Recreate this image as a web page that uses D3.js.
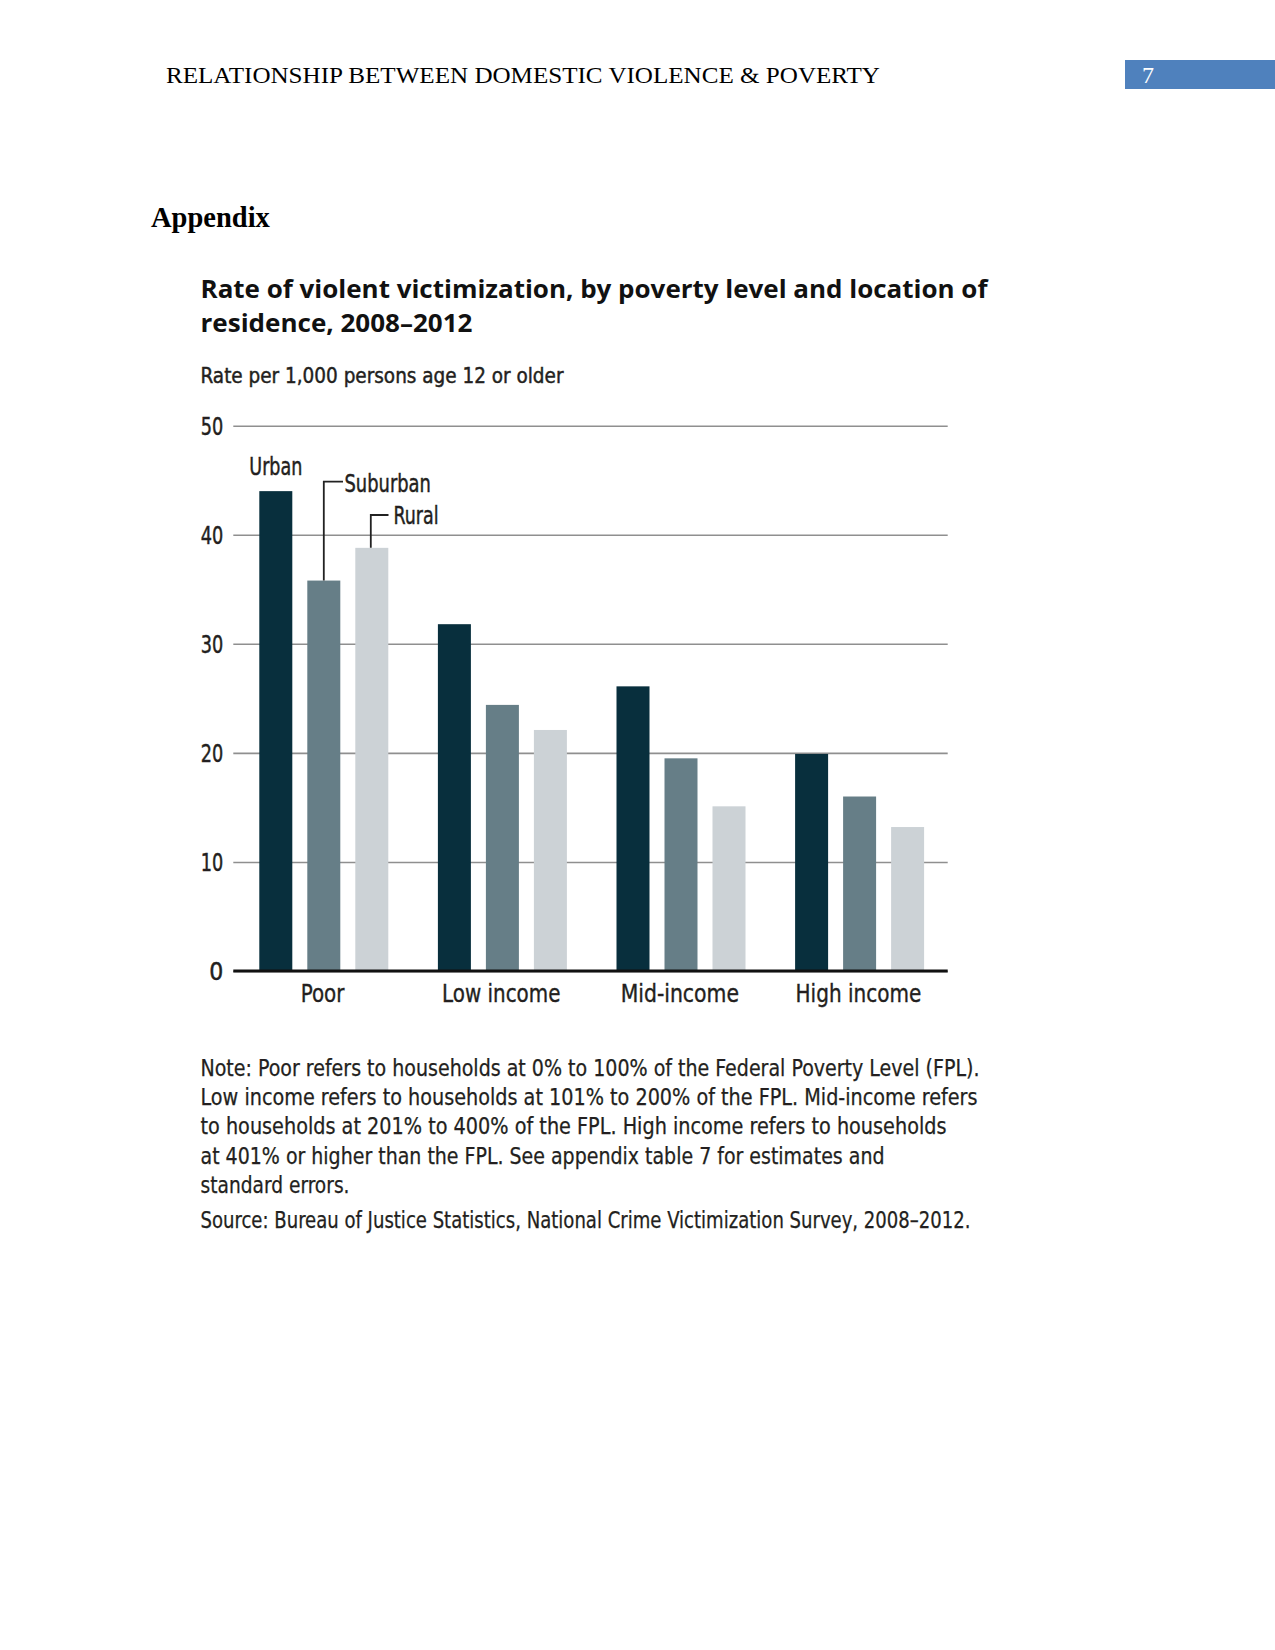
<!DOCTYPE html>
<html>
<head>
<meta charset="utf-8">
<script src="https://cdn.jsdelivr.net/npm/d3@7"></script>
<style>
  html, body { margin: 0; padding: 0; background: #fff; }
  svg { display: block; }
</style>
</head>
<body>
<svg id="page" width="1275" height="1650"></svg>
<script>
// ---------------- DATA ----------------
const categories = ["Poor", "Low income", "Mid-income", "High income"];
const series = ["Urban", "Suburban", "Rural"];
const urbanValues = [44.0, 31.8, 26.1, 19.9];
const suburbanValues = [35.8, 24.4, 19.5, 16.0];
const ruralValues = [38.8, 22.1, 15.1, 13.2];
const yTickValues = [0, 10, 20, 30, 40, 50];

const headerText = "RELATIONSHIP BETWEEN DOMESTIC VIOLENCE & POVERTY";
const pageNumber = "7";
const sectionTitle = "Appendix";
const titleLines = ["Rate of violent victimization, by poverty level and location of", "residence, 2008\u20132012"];
const subtitleText = "Rate per 1,000 persons age 12 or older";
const noteLines = [
  "Note: Poor refers to households at 0% to 100% of the Federal Poverty Level (FPL).",
  "Low income refers to households at 101% to 200% of the FPL. Mid-income refers",
  "to households at 201% to 400% of the FPL. High income refers to households",
  "at 401% or higher than the FPL. See appendix table 7 for estimates and",
  "standard errors."
];
const sourceText = "Source: Bureau of Justice Statistics, National Crime Victimization Survey, 2008\u20132012.";

// ---------------- STYLE / LAYOUT ----------------
const colors = { Urban: "#082f3d", Suburban: "#667e87", Rural: "#ccd2d6" };
const narrow = "'Liberation Sans Narrow', 'DejaVu Sans Condensed', 'Arial Narrow', sans-serif";
const textColor = "#231f20";
const heavy = 0.45; // slight stroke to mimic the heavier condensed face

const valuesBySeries = { Urban: urbanValues, Suburban: suburbanValues, Rural: ruralValues };
const rows = categories.map((c, i) => ({
  category: c,
  values: series.map(s => ({ key: s, value: valuesBySeries[s][i] }))
}));

const svg = d3.select("#page");

// Header
svg.append("text")
  .attr("x", 166).attr("y", 83)
  .attr("font-family", "'Liberation Serif', 'Times New Roman', serif")
  .attr("font-size", 24)
  .attr("fill", "#000")
  .attr("textLength", 714).attr("lengthAdjust", "spacingAndGlyphs")
  .text(headerText);

svg.append("rect")
  .attr("x", 1125).attr("y", 60).attr("width", 150).attr("height", 29)
  .attr("fill", "#4f81bd");
svg.append("text")
  .attr("x", 1142).attr("y", 83)
  .attr("font-family", "'Liberation Serif', 'Times New Roman', serif")
  .attr("font-size", 24)
  .attr("fill", "#fff")
  .text(pageNumber);

svg.append("text")
  .attr("x", 151).attr("y", 227)
  .attr("font-family", "'Liberation Serif', 'Times New Roman', serif")
  .attr("font-weight", "bold")
  .attr("font-size", 28.5)
  .attr("fill", "#000")
  .text(sectionTitle);

// Chart title
const titleWidths = [787, 272];
svg.append("g").selectAll("text")
  .data(titleLines)
  .join("text")
  .attr("x", 200.5)
  .attr("y", (d, i) => 297.5 + i * 34.5)
  .attr("font-family", "'Open Sans', 'Noto Sans', sans-serif")
  .attr("font-weight", 700)
  .attr("font-size", 25)
  .attr("fill", "#111")
  .attr("textLength", (d, i) => titleWidths[i])
  .attr("lengthAdjust", "spacingAndGlyphs")
  .text(d => d);

svg.append("text")
  .attr("x", 200.5).attr("y", 382.5)
  .attr("font-family", narrow)
  .attr("font-size", 22)
  .attr("fill", textColor)
  .attr("stroke", textColor).attr("stroke-width", heavy)
  .attr("textLength", 363).attr("lengthAdjust", "spacingAndGlyphs")
  .text(subtitleText);

// ---------------- SCALES ----------------
const plotLeft = 233.3, plotRight = 947.7;
const x0 = d3.scaleBand().domain(categories).range([plotLeft, plotRight]).paddingInner(0).paddingOuter(0);
const x1 = d3.scaleBand().domain(series).range([26, 155]).paddingInner(0.3125).paddingOuter(0);
const y = d3.scaleLinear().domain([0, 50]).range([971, 425.7]);

// Gridlines + y tick labels
const yAxis = svg.append("g")
  .attr("transform", `translate(${plotLeft},0)`)
  .call(d3.axisLeft(y).tickValues(yTickValues).tickSize(-(plotRight - plotLeft)).tickPadding(10).tickFormat(d3.format("d")));
yAxis.select(".domain").remove();
yAxis.selectAll(".tick line")
  .attr("stroke", "#8f8f8f")
  .attr("stroke-width", 1.6);
yAxis.selectAll(".tick text")
  .attr("font-family", narrow)
  .attr("font-size", 24.5)
  .attr("fill", textColor)
  .attr("stroke", textColor).attr("stroke-width", heavy)
  .attr("textLength", 22.5).attr("lengthAdjust", "spacingAndGlyphs")
  .attr("dy", "0.36em");
yAxis.selectAll(".tick text").filter(d => d === 0).attr("textLength", null);

// Bars
const groups = svg.append("g").selectAll("g")
  .data(rows)
  .join("g")
  .attr("transform", d => `translate(${x0(d.category)},0)`);
groups.selectAll("rect")
  .data(d => d.values)
  .join("rect")
  .attr("x", d => x1(d.key))
  .attr("width", x1.bandwidth())
  .attr("y", d => y(d.value))
  .attr("height", d => y(0) - y(d.value))
  .attr("fill", d => colors[d.key]);

// Baseline
svg.append("line")
  .attr("x1", plotLeft).attr("x2", plotRight)
  .attr("y1", y(0)).attr("y2", y(0))
  .attr("stroke", "#111").attr("stroke-width", 3);

// Category labels
const catWidths = { "Poor": 43.7, "Low income": 118.4, "Mid-income": 118.3, "High income": 125.7 };
const xAxis = svg.append("g")
  .attr("transform", `translate(0,${y(0)})`)
  .call(d3.axisBottom(x0).tickSize(0).tickPadding(0));
xAxis.select(".domain").remove();
xAxis.selectAll(".tick text")
  .attr("y", 30.5)
  .attr("dy", 0)
  .attr("font-family", narrow)
  .attr("font-size", 25)
  .attr("fill", textColor)
  .attr("stroke", textColor).attr("stroke-width", heavy * 0.8)
  .attr("textLength", d => catWidths[d])
  .attr("lengthAdjust", "spacingAndGlyphs");

// Series annotations (direct labels on the Poor group)
const first = categories[0];
const cx = key => x0(first) + x1(key) + x1.bandwidth() / 2;
const ann = svg.append("g")
  .attr("font-family", narrow).attr("font-size", 25)
  .attr("fill", textColor);

ann.append("text")
  .attr("x", cx("Urban")).attr("y", 475)
  .attr("text-anchor", "middle")
  .attr("stroke", textColor).attr("stroke-width", heavy)
  .attr("textLength", 53).attr("lengthAdjust", "spacingAndGlyphs")
  .text(series[0]);

// Suburban leader
ann.append("path")
  .attr("d", `M${cx("Suburban")},${y(suburbanValues[0])} V481.7 H343`)
  .attr("fill", "none").attr("stroke", "#222").attr("stroke-width", 1.8);
ann.append("text")
  .attr("x", 344.5).attr("y", 492.3)
  .attr("stroke", textColor).attr("stroke-width", heavy)
  .attr("textLength", 86.4).attr("lengthAdjust", "spacingAndGlyphs")
  .text(series[1]);

// Rural leader
ann.append("path")
  .attr("d", `M${cx("Rural") - 1},${y(ruralValues[0])} V515 H388.5`)
  .attr("fill", "none").attr("stroke", "#222").attr("stroke-width", 1.8);
ann.append("text")
  .attr("x", 393.5).attr("y", 524.3)
  .attr("stroke", textColor).attr("stroke-width", heavy)
  .attr("textLength", 45).attr("lengthAdjust", "spacingAndGlyphs")
  .text(series[2]);

// Notes
const noteWidths = [779, 777, 746, 684, 149];
svg.append("g").selectAll("text")
  .data(noteLines)
  .join("text")
  .attr("x", 200.5)
  .attr("y", (d, i) => 1076 + i * 29.2)
  .attr("font-family", narrow)
  .attr("font-size", 22.5)
  .attr("fill", textColor)
  .attr("stroke", textColor).attr("stroke-width", 0.25)
  .attr("textLength", (d, i) => noteWidths[i])
  .attr("lengthAdjust", "spacingAndGlyphs")
  .text(d => d);

svg.append("text")
  .attr("x", 200.5).attr("y", 1227.7)
  .attr("font-family", narrow)
  .attr("font-size", 22.5)
  .attr("fill", textColor)
  .attr("stroke", textColor).attr("stroke-width", 0.25)
  .attr("textLength", 770).attr("lengthAdjust", "spacingAndGlyphs")
  .text(sourceText);
</script>
</body>
</html>
